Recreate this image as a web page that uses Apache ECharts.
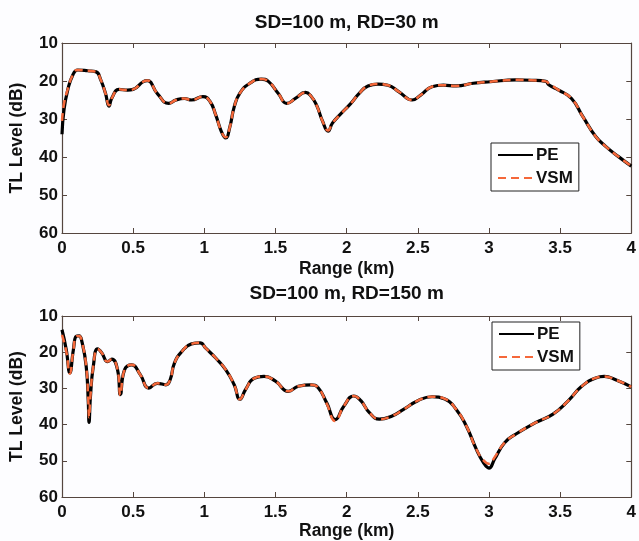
<!DOCTYPE html>
<html>
<head>
<meta charset="utf-8">
<script src="https://cdn.jsdelivr.net/npm/echarts@6/dist/echarts.min.js"></script>
<style>
html,body{margin:0;padding:0;background:#fdfdff;}
#c{width:639px;height:541px;}
</style>
</head>
<body>
<div id="c"></div>
<script>
// ---- data (Range in km, TL in dB) ----
const topTitle = 'SD=100 m, RD=30 m';
const bottomTitle = 'SD=100 m, RD=150 m';
const xTicks = [0, 0.5, 1, 1.5, 2, 2.5, 3, 3.5, 4];
const yTicks = [10, 20, 30, 40, 50, 60];

const topRange = [0,0.014,0.04,0.076,0.11,0.18,0.24,0.27,0.306,0.33,0.35,0.40,0.46,0.50,0.57,0.60,0.67,0.75,0.80,0.86,0.91,0.99,1.04,1.08,1.12,1.15,1.18,1.21,1.25,1.32,1.40,1.45,1.52,1.58,1.64,1.71,1.75,1.79,1.83,1.87,1.90,1.95,2.03,2.09,2.15,2.22,2.29,2.37,2.46,2.52,2.60,2.68,2.77,2.89,3.01,3.19,3.30,3.40,3.42,3.49,3.58,3.66,3.75,3.82,3.91,4.00];
const topPE = [34,27.6,22.4,18.4,17.1,17.3,17.6,19.5,23.3,26.6,24.5,22.2,22.4,22.2,20.2,19.9,23.3,25.9,25.0,24.6,25.0,24.1,25.4,28.9,33.3,35.0,32.0,26.8,23.2,20.6,19.5,20.1,23.3,25.9,24.6,23.0,24.0,26.5,30.5,33.2,31.1,29.0,25.9,23.2,21.3,20.8,21.1,22.9,25.0,23.7,21.5,21.1,21.3,20.6,20.2,19.7,19.8,20.1,21.0,22.4,24.6,29.4,34.6,37.2,39.9,42.4];
const topVSM = [30.5,26.0,22.2,18.4,17.1,17.3,17.6,19.5,23.3,26.4,24.5,22.2,22.4,22.2,20.2,19.9,23.3,25.9,25.0,24.6,25.0,24.1,25.4,28.9,33.3,34.8,32.0,26.8,23.2,20.6,19.5,20.1,23.3,25.9,24.6,23.0,24.0,26.5,30.5,33.0,31.1,29.0,25.9,23.2,21.3,20.8,21.1,22.9,25.0,23.7,21.5,21.1,21.3,20.6,20.2,19.7,19.8,20.1,20.6,22.4,24.6,29.4,34.6,37.2,39.9,42.4];

const botRange = [0,0.03,0.055,0.08,0.10,0.12,0.14,0.17,0.185,0.19,0.20,0.22,0.25,0.28,0.32,0.35,0.39,0.41,0.44,0.49,0.55,0.61,0.67,0.73,0.76,0.79,0.84,0.91,0.97,1.01,1.08,1.15,1.21,1.25,1.29,1.35,1.42,1.50,1.59,1.66,1.75,1.80,1.86,1.92,1.98,2.05,2.10,2.16,2.23,2.32,2.40,2.50,2.60,2.69,2.77,2.84,2.91,2.96,3.00,3.04,3.11,3.19,3.33,3.45,3.56,3.65,3.75,3.81,3.89,4.00];
const botPE = [13.8,19.3,25.7,19.3,15.6,15.5,17.1,23.9,34,39.4,32.2,23.9,19.1,20.2,22.6,21.9,24.8,31.7,24.8,23.5,26.2,29.9,28.6,29.0,27.6,23.0,19.9,17.7,17.4,18.9,21.6,24.8,29.0,33.0,30.3,27.2,26.7,28.0,30.8,29.4,29.0,29.8,34.0,38.6,34.9,32.1,33.4,36.7,38.5,37.6,35.8,33.4,32.3,32.9,35.8,40.3,46.7,50.4,52.0,49.5,45.0,42.6,39.4,37.1,33.3,29.5,27.1,26.7,27.6,29.6];
const botVSM = [15.2,19.8,25.9,19.3,15.6,15.5,17.1,23.9,33.5,38.0,32.0,23.9,19.1,20.2,22.6,21.9,24.8,31.9,24.8,23.5,26.2,29.9,28.6,29.0,27.6,23.0,19.9,17.7,17.4,18.9,21.6,24.8,29.0,33.0,30.3,27.2,26.7,28.0,30.8,29.4,29.0,29.8,34.2,39.0,34.9,32.1,33.4,36.7,38.5,37.6,35.8,33.4,32.3,32.9,35.8,40.3,46.7,49.8,50.8,49.0,45.0,42.6,39.4,37.1,33.3,29.5,27.1,26.7,27.6,29.6];

const zip = (xs, ys) => xs.map((x, i) => [x, ys[i]]);

const FONT = 'Liberation Sans';
const AX = '#55463f';
const ORANGE = '#f5683a';
const tickStyle = {show: true, inside: true, length: 5, lineStyle: {color: AX, width: 1}};
const lineStyle = {show: true, onZero: false, lineStyle: {color: AX, width: 1.2}};
const labelFont = {fontFamily: FONT, fontWeight: 'bold', fontSize: 17, color: '#111'};

function xAxes(gi, title, nameGap, titleGap) {
  return [
    {gridIndex: gi, type: 'value', min: xTicks[0], max: xTicks[xTicks.length-1], interval: xTicks[1]-xTicks[0],
     axisLine: lineStyle, axisTick: tickStyle, splitLine: {show: false},
     axisLabel: Object.assign({margin: 7}, labelFont),
     name: 'Range (km)', nameLocation: 'middle', nameGap: nameGap, nameMoveOverlap: false,
     nameTextStyle: {fontFamily: FONT, fontWeight: 'bold', fontSize: 17.5, color: '#111'}},
    {gridIndex: gi, type: 'value', position: 'top', min: xTicks[0], max: xTicks[xTicks.length-1], interval: xTicks[1]-xTicks[0],
     axisLine: lineStyle, axisTick: tickStyle, splitLine: {show: false}, axisLabel: {show: false},
     name: title, nameLocation: 'middle', nameGap: titleGap, nameMoveOverlap: false,
     nameTextStyle: {fontFamily: FONT, fontWeight: 'bold', fontSize: 19, color: '#111'}}
  ];
}
function yAxes(gi) {
  return [
    {gridIndex: gi, type: 'value', inverse: true, min: yTicks[0], max: yTicks[yTicks.length-1], interval: yTicks[1]-yTicks[0],
     axisLine: lineStyle, axisTick: tickStyle, splitLine: {show: false},
     axisLabel: Object.assign({margin: 4}, labelFont),
     name: 'TL Level (dB)', nameLocation: 'middle', nameGap: 36, nameMoveOverlap: false,
     nameTextStyle: {fontFamily: FONT, fontWeight: 'bold', fontSize: 17.5, color: '#111'}},
    {gridIndex: gi, type: 'value', position: 'right', inverse: true, min: yTicks[0], max: yTicks[yTicks.length-1], interval: yTicks[1]-yTicks[0],
     axisLine: lineStyle, axisTick: tickStyle, splitLine: {show: false}, axisLabel: {show: false}}
  ];
}
function peSeries(gi, data) {
  return {name: 'PE', type: 'line', xAxisIndex: gi*2, yAxisIndex: gi*2, data: data,
    showSymbol: false, symbol: 'none', smooth: 0.5, z: 2,
    lineStyle: {color: '#000', width: 3.2}, itemStyle: {color: '#000'}};
}
function vsmSeries(gi, data) {
  return {name: 'VSM', type: 'line', xAxisIndex: gi*2, yAxisIndex: gi*2, data: data,
    showSymbol: false, symbol: 'none', smooth: 0.5, z: 3,
    lineStyle: {color: ORANGE, width: 2.5, type: [8, 5]}, itemStyle: {color: ORANGE}};
}
function legend(left, top) {
  return {orient: 'vertical', left: left, top: top, data: ['PE', 'VSM'],
    backgroundColor: '#fff', borderColor: '#222', borderWidth: 1, borderRadius: 0,
    padding: [3, 6, 4, 6], itemGap: 5, itemWidth: 35, itemHeight: 14,
    selectedMode: false,
    itemStyle: {color: 'rgba(0,0,0,0)', borderWidth: 0, opacity: 0},
    textStyle: {fontFamily: FONT, fontWeight: 'bold', fontSize: 17, color: '#111', lineHeight: 18, padding: [0, 0, 0, -2]}};
}

const chart = echarts.init(document.getElementById('c'), null, {renderer: 'canvas'});
chart.setOption({
  backgroundColor: '#fdfdff',
  animation: false,
  grid: [
    {left: 61, top: 43, width: 575, height: 190, containLabel: false},
    {left: 61, top: 316, width: 575, height: 182, containLabel: false}
  ],
  xAxis: xAxes(0, topTitle, 27, 11).concat(xAxes(1, bottomTitle, 25, 13)),
  yAxis: yAxes(0).concat(yAxes(1)),
  legend: [legend(491, 143), legend(492, 322)],
  series: [
    peSeries(0, zip(topRange, topPE)), vsmSeries(0, zip(topRange, topVSM)),
    peSeries(1, zip(botRange, botPE)), vsmSeries(1, zip(botRange, botVSM))
  ]
});
</script>
</body>
</html>
